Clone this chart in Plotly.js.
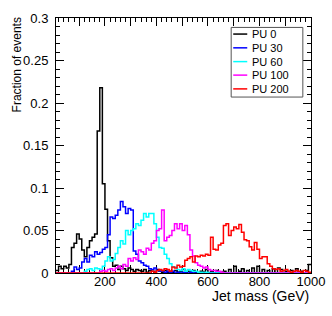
<!DOCTYPE html>
<html>
<head>
<meta charset="utf-8">
<script src="https://cdn.plot.ly/plotly-3.0.1.min.js"></script>
<style>html,body{margin:0;padding:0;background:#fff;}#chart{width:332px;height:316px;}</style>
</head>
<body>
<div id="chart"></div>
<script>
// Histogram bins: 10 GeV wide, first bin starts at 10 GeV (99 bins up to 1000 GeV)
const binStart = 10;
const binWidth = 10;

const seriesNames = ["PU 0", "PU 30", "PU 60", "PU 100", "PU 200"];
const seriesColors = ["#000000", "#0000ff", "#00ffff", "#ff00ff", "#ff0000"];

const pu0 = [
  0.003, 0.008, 0.005, 0.008, 0.006, 0.010, 0.030, 0.035, 0.046,
  0.040, 0.027, 0.019, 0.030, 0.038, 0.042, 0.046, 0.167, 0.218, 0.105,
  0.075, 0.038, 0.018, 0.008, 0.009, 0.004, 0.008, 0.005, 0.003, 0.006,
  0.004, 0.002, 0.004, 0.003, 0.002, 0.004, 0.001, 0.003, 0.002, 0.001,
  0.004, 0.002, 0.001, 0.003, 0.001, 0.002, 0.001, 0.003, 0.001, 0.002,
  0.004, 0.000, 0.002, 0.001, 0.003, 0.001, 0.000, 0.002, 0.001, 0.004,
  0.000, 0.002, 0.000, 0.003, 0.000, 0.001, 0.002, 0.000, 0.004, 0.000,
  0.008, 0.000, 0.002, 0.005, 0.000, 0.003, 0.000, 0.006, 0.000, 0.008,
  0.000, 0.004, 0.000, 0.003, 0.000, 0.005, 0.000, 0.006, 0.004, 0.000,
  0.002, 0.000, 0.003, 0.000, 0.005, 0.000, 0.002, 0.000, 0.003, 0.010
];

const pu30 = [
  0, 0, 0, 0, 0, 0, 0.002, 0.007, 0.004,
  0.006, 0.013, 0.017, 0.013, 0.021, 0.019, 0.025, 0.022, 0.024, 0.028,
  0.030, 0.045, 0.066, 0.064, 0.068, 0.074, 0.084, 0.078, 0.070, 0.076,
  0.074, 0.026, 0.022, 0.014, 0.012, 0.009, 0.008, 0.005, 0.004, 0.006,
  0.003, 0.002, 0.003, 0.001, 0.002, 0.001, 0.002, 0.000, 0.001, 0.000,
  0.001, 0, 0, 0.001, 0, 0, 0, 0, 0, 0,
  0, 0, 0, 0, 0, 0, 0, 0, 0, 0,
  0, 0, 0, 0, 0, 0, 0, 0, 0, 0,
  0, 0, 0, 0, 0, 0, 0, 0, 0, 0,
  0, 0, 0, 0, 0, 0, 0, 0, 0, 0
];

const pu60 = [
  0, 0, 0, 0, 0, 0, 0, 0, 0,
  0, 0, 0.002, 0.004, 0.005, 0.003, 0.006, 0.005, 0.004, 0.008,
  0.014, 0.019, 0.014, 0.016, 0.023, 0.030, 0.038, 0.034, 0.050, 0.045,
  0.050, 0.052, 0.058, 0.056, 0.062, 0.070, 0.066, 0.070, 0.070, 0.058,
  0.042, 0.030, 0.029, 0.022, 0.017, 0.011, 0.007, 0.007, 0.004, 0.003,
  0.005, 0.002, 0.004, 0.003, 0.002, 0.002, 0.001, 0.001, 0, 0.001,
  0, 0, 0, 0, 0, 0, 0, 0, 0, 0,
  0, 0, 0, 0, 0, 0, 0, 0, 0, 0,
  0, 0, 0, 0, 0, 0, 0, 0, 0, 0,
  0, 0, 0, 0, 0, 0, 0, 0, 0, 0
];

const pu100 = [
  0, 0, 0, 0, 0, 0, 0, 0, 0,
  0, 0, 0, 0, 0, 0, 0, 0, 0.002, 0.003,
  0.002, 0.004, 0.005, 0.003, 0.006, 0.008, 0.005, 0.010, 0.008, 0.017,
  0.014, 0.018, 0.016, 0.027, 0.025, 0.022, 0.029, 0.027, 0.035, 0.038,
  0.050, 0.052, 0.074, 0.038, 0.042, 0.044, 0.050, 0.058, 0.052, 0.058,
  0.050, 0.056, 0.045, 0.027, 0.020, 0.012, 0.009, 0.008, 0.006, 0.007,
  0.004, 0.003, 0.003, 0.002, 0.002, 0.001, 0, 0, 0, 0,
  0, 0, 0, 0, 0, 0, 0, 0, 0, 0,
  0, 0, 0, 0, 0, 0, 0, 0, 0, 0,
  0, 0, 0, 0, 0, 0, 0, 0, 0, 0
];

const pu200 = [
  0, 0, 0, 0, 0, 0, 0, 0, 0,
  0, 0, 0, 0, 0, 0, 0, 0, 0, 0,
  0, 0, 0, 0, 0, 0, 0, 0, 0, 0,
  0, 0, 0, 0, 0, 0, 0, 0, 0.002, 0.001,
  0.003, 0.004, 0.003, 0.005, 0.004, 0.002, 0.007, 0.006, 0.009, 0.007,
  0.008, 0.015, 0.017, 0.019, 0.013, 0.020, 0.019, 0.021, 0.020, 0.022,
  0.021, 0.042, 0.028, 0.027, 0.033, 0.035, 0.056, 0.058, 0.044, 0.050,
  0.054, 0.052, 0.057, 0.048, 0.039, 0.038, 0.031, 0.027, 0.036, 0.028,
  0.017, 0.019, 0.019, 0.011, 0.008, 0.005, 0.004, 0.005, 0.002, 0.003,
  0.004, 0.002, 0.001, 0.002, 0.003, 0.002, 0.001, 0.003, 0.002, 0.001
];

const xTickVals = [100, 200, 300, 400, 500, 600, 700, 800, 900, 1000];
const xTickText = ["", "200", "", "400", "", "600", "", "800", "", "1000"];

const allSeries = [pu0, pu30, pu60, pu100, pu200];

function stepTrace(vals, name, color) {
  const x = [], y = [];
  for (let i = 0; i < vals.length; i++) {
    x.push(binStart + i * binWidth);
    y.push(vals[i]);
  }
  x.push(binStart + vals.length * binWidth);
  y.push(vals[vals.length - 1]);
  return {
    type: "scatter", mode: "lines", x: x, y: y, name: name,
    line: {shape: "hv", color: color, width: 1.5},
    hoverinfo: "skip", showlegend: false
  };
}

const traces = allSeries.map((s, i) => stepTrace(s, seriesNames[i], seriesColors[i]));

const FONT = "Liberation Sans, Arial, Helvetica, sans-serif";

// ROOT-style legend box (paper coordinates)
const legBox = {x0: 0.687, x1: 0.968, y0: 0.690, y1: 0.963};
const legRowY = [0.937, 0.883, 0.829, 0.776, 0.722];
const legLineX = [0.695, 0.750];
const legTextX = 0.762;

const shapes = [{
  type: "rect", xref: "paper", yref: "paper",
  x0: legBox.x0, x1: legBox.x1, y0: legBox.y0, y1: legBox.y1,
  line: {color: "#555555", width: 1}, fillcolor: "#ffffff", layer: "above"
}];
const annotations = [
  {text: "Jet mass (GeV)", xref: "paper", yref: "paper", x: 1, xanchor: "right",
   y: -0.090, yanchor: "middle", showarrow: false,
   font: {family: FONT, size: 14, color: "#000"}},
  {text: "Fraction of events", xref: "paper", yref: "paper", x: -0.153, xanchor: "center",
   y: 1.012, yanchor: "top", textangle: -90, showarrow: false,
   font: {family: FONT, size: 12, color: "#000"}}
];
seriesNames.forEach((nm, i) => {
  shapes.push({
    type: "line", xref: "paper", yref: "paper",
    x0: legLineX[0], x1: legLineX[1], y0: legRowY[i], y1: legRowY[i],
    line: {color: seriesColors[i], width: 1.5}, layer: "above"
  });
  annotations.push({
    text: nm, xref: "paper", yref: "paper", x: legTextX, xanchor: "left",
    y: legRowY[i], yanchor: "middle", showarrow: false,
    font: {family: FONT, size: 11, color: "#000"}
  });
});

const layout = {
  width: 332, height: 316,
  margin: {l: 56, r: 21, t: 18, b: 43, pad: 0},
  paper_bgcolor: "#ffffff", plot_bgcolor: "#ffffff",
  font: {family: FONT, size: 13, color: "#000"},
  showlegend: false,
  xaxis: {
    range: [10, 1000], autorange: false,
    showline: true, linecolor: "#000", linewidth: 1, mirror: "allticks",
    ticks: "inside", ticklen: 8, tickcolor: "#000", tickwidth: 1,
    tickmode: "array", tickvals: xTickVals, ticktext: xTickText,
    minor: {dtick: 20, tick0: 0, ticks: "inside", ticklen: 4, tickcolor: "#000", tickwidth: 1},
    showgrid: false, zeroline: false,
    tickfont: {family: FONT, size: 13, color: "#000"},
    ticklabelstandoff: -4,
    layer: "below traces"
  },
  yaxis: {
    range: [0, 0.3], autorange: false,
    showline: true, linecolor: "#000", linewidth: 1, mirror: "allticks",
    ticks: "inside", ticklen: 8, tickcolor: "#000", tickwidth: 1,
    dtick: 0.05, tick0: 0,
    minor: {dtick: 0.01, ticks: "inside", ticklen: 4, tickcolor: "#000", tickwidth: 1},
    showgrid: false, zeroline: false,
    tickfont: {family: FONT, size: 13, color: "#000"},
    ticklabelstandoff: 4,
    layer: "below traces"
  },
  shapes: shapes,
  annotations: annotations
};

Plotly.newPlot("chart", traces, layout, {staticPlot: true, displayModeBar: false});
</script>
</body>
</html>
